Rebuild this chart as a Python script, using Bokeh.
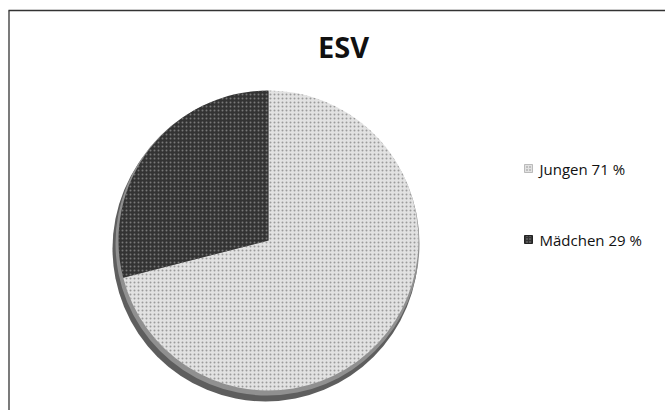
import math
from bokeh.plotting import figure
from bokeh.models import Range1d, ColumnDataSource
from bokeh.core.properties import value
from bokeh.embed import file_html
from bokeh.resources import INLINE

title = "ESV"
categories = ["Jungen", "Mädchen"]
percents = [71, 29]
labels = ["Jungen 71 %", "Mädchen 29 %"]
colors = ["#e2e2e2", "#333333"]
hatch_colors = ["#8a8a8a", "#8a8a8a"]

W, H = 665, 410
p = figure(width=W, height=H, output_backend="svg", toolbar_location=None,
           x_range=Range1d(0, W), y_range=Range1d(0, H), min_border=0)
p.axis.visible = False
p.grid.visible = False
p.outline_line_color = None
p.background_fill_color = "white"
p.border_fill_color = "white"

# frame lines (top and left), page coords: x, H - y
p.segment(x0=[8, 8.5], y0=[H - 10, H - 10], x1=[W, 8.5], y1=[H - 10, 0],
          line_color="#333333", line_width=1.3)

cx, cy, r = 268, H - 240, 150

# shadow / bevel rim
p.circle(x=[cx - 3], y=[cy - 8], radius=r + 3, fill_color="#5e5e5e", line_color=None)
p.circle(x=[cx - 1], y=[cy - 3], radius=r + 2, fill_color="#909090", line_color=None)

# wedges, clockwise from 12 o'clock
total = sum(percents)
starts, ends = [], []
a = math.pi / 2
for v in percents:
    e = a - 2 * math.pi * v / total
    starts.append(a)
    ends.append(e)
    a = e
src = ColumnDataSource(dict(start=starts, end=ends, color=colors, hcolor=hatch_colors, cat=categories))
p.wedge(x=cx, y=cy, radius=r, start_angle="start", end_angle="end", direction="clock",
        fill_color="color", line_color=None, hatch_pattern="dot", hatch_color="hcolor",
        hatch_scale=4, hatch_alpha=0.8, source=src)

# title
p.text(x=[343], y=[H - 46], text=[title], text_font=value("Open Sans"),
       text_font_style="bold", text_font_size="29px", text_align="center",
       text_baseline="middle", text_color="#111111")

# legend
lx = 528
ly = [H - 168, H - 239]
p.scatter(x=[lx, lx], y=ly, marker="square", size=8, fill_color=colors,
          line_color=["#bbbbbb", "#222222"], hatch_pattern="dot", hatch_color=hatch_colors, hatch_scale=3)
p.text(x=[lx + 11, lx + 11], y=ly, text=labels, text_font=value("Open Sans"),
       text_font_size="15px", text_baseline="middle", text_color="#111111")

open("out.html", "w").write(file_html(p, INLINE))
